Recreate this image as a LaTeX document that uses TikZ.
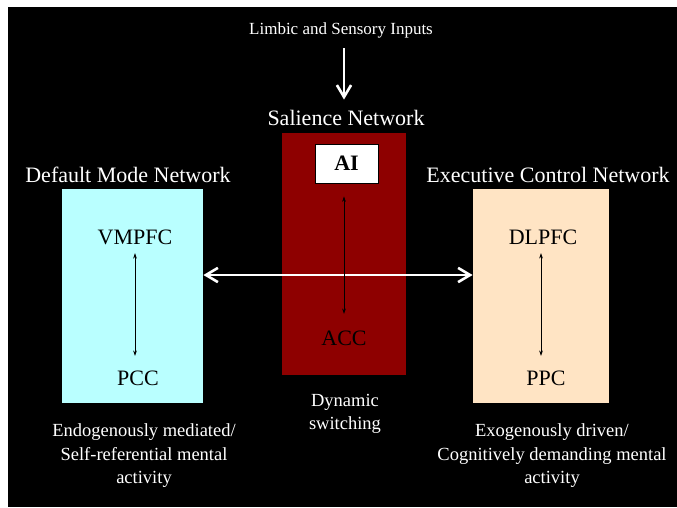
\documentclass[tikz,border=0pt]{standalone}
\usepackage{fontspec}
\setmainfont{Liberation Serif}
\usetikzlibrary{arrows.meta}

\definecolor{salred}{RGB}{142,0,0}
\definecolor{dmncyan}{RGB}{185,255,255}
\definecolor{ecnpeach}{RGB}{255,228,196}

\begin{document}
\begin{tikzpicture}[x=1pt,y=-1pt,line width=0.8pt,>=Stealth,
  title/.style={text=white,font=\fontsize{22}{26}\selectfont},
  region/.style={text=black,font=\fontsize{22}{26}\selectfont},
  note/.style={text=white,align=center,font=\fontsize{18.5}{23.5}\selectfont},
  netbox/.style={minimum height=214,inner sep=0},
  warr/.style={line width=2.6pt,white,>={Straight Barb[length=4.2mm,width=5mm]}},
  barr/.style={<->,line width=0.6pt,black,>={Stealth[length=1.9mm,width=1.3mm]}}]
% page and black ground
\useasboundingbox (0,0) rectangle (677,507);
\fill[white] (0,0) rectangle (677,507);
\fill[black] (8,7) rectangle (677,507);
% boxes
\node[netbox,fill=dmncyan,minimum width=141] (dmn) at (132.5,296) {};
\node[netbox,fill=ecnpeach,minimum width=136] (ecn) at (541,296) {};
\node[fill=salred,minimum width=124,minimum height=242,inner sep=0] (sal) at (344,254) {};
\node[draw=black,fill=white,line width=0.8pt,minimum width=63,minimum height=39,inner sep=0,
  font=\fontsize{22}{26}\selectfont\bfseries] (ai) at (346.5,163.5) {AI};
% titles
\node[title] (saltitle) at (346,118) {Salience Network};
\node[title] (dmntitle) at (128,175) {Default Mode Network};
\node[title] (ecntitle) at (548,175) {Executive Control Network};
\node[text=white,font=\fontsize{17}{20}\selectfont] (inputs) at (341,30) {Limbic and Sensory Inputs};
% regions
\node[region] (vmpfc) at (135,237) {VMPFC};
\node[region] (pcc) at (138,378) {PCC};
\node[region] (acc) at (344,338) {ACC};
\node[region] (dlpfc) at (543,237) {DLPFC};
\node[region] (ppc) at (546,378) {PPC};
% notes
\node[note] (dmnnote) at (144,456) {Endogenously mediated/\\Self-referential mental\\activity};
\node[note] (salnote) at (345,414) {Dynamic\\switching};
\node[note] (ecnnote) at (552,456) {Exogenously driven/\\Cognitively demanding mental\\activity};
% arrows
\draw[warr,->,shorten <=7pt,shorten >=7pt] (inputs.south -| 344,0) -- (saltitle.north -| 344,0);
\draw[warr,<->] ([yshift=21pt]dmn.east) -- ([yshift=21pt]ecn.west);
\draw[barr,shorten <=5pt,shorten >=11pt] (vmpfc.south) -- (vmpfc.south |- pcc.north);
\draw[barr,shorten <=13pt,shorten >=13pt] (ai.south -| acc) -- (acc.north);
\draw[barr,shorten <=5pt,shorten >=11pt] ([xshift=-2pt]dlpfc.south) -- ([xshift=-2pt]dlpfc.south |- ppc.north);
\end{tikzpicture}
\end{document}
